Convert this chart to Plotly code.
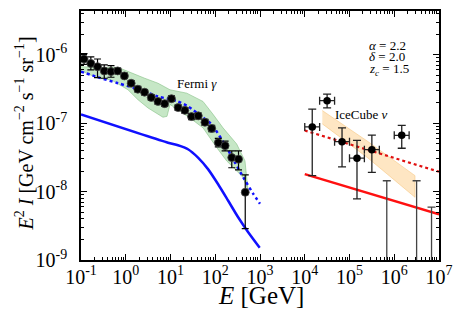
import plotly.graph_objects as go

# ---------------- data ----------------
# Fermi gamma-ray background points
fermi_E = [0.117, 0.166, 0.234, 0.331, 0.468, 0.661, 0.933, 1.32, 1.86, 2.63, 3.72, 5.25,
           7.41, 10.5, 14.8, 20.9, 29.5, 41.7, 58.9, 83.2, 117, 166, 234, 331, 468]
fermi_F = [8.67e-7, 7.48e-7, 6.70e-7, 5.81e-7, 5.68e-7, 5.81e-7, 4.91e-7, 3.84e-7, 3.14e-7,
           2.84e-7, 2.38e-7, 2.08e-7, 1.93e-7, 2.28e-7, 1.69e-7, 1.54e-7, 1.25e-7, 1.28e-7,
           1.03e-7, 8.38e-8, 5.18e-8, 4.69e-8, 3.14e-8, 2.98e-8, 9.77e-9]
fermi_hi = [1.04e-6, 9.35e-7, 8.67e-7, 7.10e-7, 6.93e-7, 6.4e-7, 5.4e-7, 4.2e-7, 3.45e-7,
            3.1e-7, 2.6e-7, 2.28e-7, 2.12e-7, 2.5e-7, 1.85e-7, 1.69e-7, 1.38e-7, 1.41e-7,
            1.14e-7, 9.3e-8, 6.0e-8, 5.48e-8, 3.93e-8, 3.93e-8, 1.76e-8]
fermi_lo = [7.23e-7, 6.0e-7, 4.65e-7, 4.54e-7, 4.69e-7, 5.3e-7, 4.5e-7, 3.5e-7, 2.87e-7,
            2.6e-7, 2.18e-7, 1.9e-7, 1.76e-7, 2.08e-7, 1.54e-7, 1.40e-7, 1.13e-7, 1.16e-7,
            0.93e-7, 7.5e-8, 4.5e-8, 3.93e-8, 2.23e-8, 2.08e-8, 2.88e-9]

# Fermi foreground-systematics band
band_up_E = [0.1, 0.24, 0.671, 1.12, 2.65, 5.26, 9.75, 23.0, 53.2, 89.1, 149, 301, 462, 540]
band_up_F = [6.70e-7, 6.55e-7, 6.55e-7, 5.68e-7, 4.54e-7, 3.84e-7, 3.08e-7, 2.75e-7,
             2.08e-7, 1.35e-7, 8.55e-8, 4.97e-8, 2.81e-8, 1.03e-8]
band_lo_E = [0.1, 0.24, 0.475, 1.12, 1.88, 3.14, 6.79, 8.36, 9.75, 13.8, 27.3, 53.2,
             108, 180, 301, 417, 540]
band_lo_F = [5.86e-7, 4.54e-7, 4.30e-7, 3.08e-7, 2.20e-7, 1.67e-7, 1.22e-7, 1.26e-7,
             1.88e-7, 1.60e-7, 1.19e-7, 8.55e-8, 4.39e-8, 2.81e-8, 2.01e-8, 1.61e-8, 1.03e-8]

# model gamma-ray curves
gam_tot_E = [0.1, 0.24, 0.671, 1.88, 5.26, 14.7, 24.6, 48.9, 83.4, 180, 276, 424, 708, 1000]
gam_tot_F = [5.68e-7, 4.69e-7, 3.84e-7, 3.14e-7, 2.46e-7, 2.08e-7, 1.76e-7, 1.26e-7,
             9.57e-8, 4.39e-8, 2.66e-8, 1.61e-8, 9.27e-9, 6.64e-9]
gam_src_E = [0.1, 8.79, 14.7, 24.6, 41.2, 68.9, 115, 193, 322, 540, 985]
gam_src_F = [1.34e-7, 5.18e-8, 4.75e-8, 4.16e-8, 3.14e-8, 2.13e-8, 1.29e-8, 7.41e-9,
             4.25e-9, 2.57e-9, 1.51e-9]

# IceCube neutrino points
ic_E = [1.47e4, 3.16e4, 6.81e4, 1.47e5, 3.16e5, 1.47e6]
ic_Elo = [1.0e4, 2.15e4, 4.64e4, 1.0e5, 2.15e5, 1.0e6]
ic_Ehi = [2.15e4, 4.64e4, 1.0e5, 2.15e5, 4.64e5, 2.15e6]
ic_F = [8.83e-8, 2.13e-7, 5.36e-8, 3.08e-8, 4.10e-8, 6.64e-8]
ic_hi = [1.61e-7, 2.66e-7, 8.55e-8, 5.61e-8, 6.70e-8, 9.27e-8]
ic_lo = [1.71e-8, 1.67e-7, 2.30e-8, 7.83e-9, 1.91e-8, 4.30e-8]
# IceCube upper-limit bins
ul_E = [6.81e5, 3.16e6, 6.81e6]
ul_F = [1.44e-8, 1.44e-8, 5.92e-9]

# IceCube best-fit band
ic_band_E = [2.47e4, 2.57e5, 2.91e6]
ic_band_up = [1.53e-7, 5.40e-8, 1.71e-8]
ic_band_lo = [9.77e-8, 3.11e-8, 8.26e-9]

# model neutrino curves
nu_E = [1.0e4, 1.0e7]
nu_src_F = [1.80e-8, 4.65e-9]
nu_tot_F = [7.83e-8, 1.95e-8]

# ticks
x_tickvals = [1e-1, 1e0, 1e1, 1e2, 1e3, 1e4, 1e5, 1e6, 1e7]
x_ticktext = ["10<sup>-1</sup>", "10<sup>0</sup>", "10<sup>1</sup>", "10<sup>2</sup>",
              "10<sup>3</sup>", "10<sup>4</sup>", "10<sup>5</sup>", "10<sup>6</sup>",
              "10<sup>7</sup>"]
y_tickvals = [1e-9, 1e-8, 1e-7, 1e-6]
y_ticktext = ["10<sup>-9</sup>", "10<sup>-8</sup>", "10<sup>-7</sup>", "10<sup>-6</sup>"]

FONT = "Liberation Serif"

fig = go.Figure()

# green band
fig.add_trace(go.Scatter(
    x=band_up_E + band_lo_E[::-1], y=band_up_F + band_lo_F[::-1],
    fill="toself", fillcolor="rgba(160,215,160,0.6)",
    line=dict(color="rgba(110,180,110,0.6)", width=0.8), mode="lines", hoverinfo="skip"))

# orange band
fig.add_trace(go.Scatter(
    x=ic_band_E + ic_band_E[::-1], y=ic_band_up + ic_band_lo[::-1],
    fill="toself", fillcolor="rgba(253,210,145,0.55)",
    line=dict(color="rgba(245,190,110,0.6)", width=0.8), mode="lines", hoverinfo="skip"))

# blue curves
fig.add_trace(go.Scatter(x=gam_src_E, y=gam_src_F, mode="lines",
                         line=dict(color="#1010ff", width=2.5, shape="spline", smoothing=0.6)))
fig.add_trace(go.Scatter(x=gam_tot_E, y=gam_tot_F, mode="lines",
                         line=dict(color="#1010ff", width=2.5, dash="dot", shape="spline",
                                   smoothing=0.6)))
# red curves
fig.add_trace(go.Scatter(x=nu_E, y=nu_src_F, mode="lines",
                         line=dict(color="#ff1010", width=2.5)))
fig.add_trace(go.Scatter(x=nu_E, y=nu_tot_F, mode="lines",
                         line=dict(color="#e01010", width=2.2, dash="dot")))

# Fermi points
fig.add_trace(go.Scatter(
    x=fermi_E, y=fermi_F, mode="markers",
    marker=dict(color="black", size=8, line=dict(color="#444", width=0.8)),
    error_y=dict(type="data", symmetric=False,
                 array=[h - f for h, f in zip(fermi_hi, fermi_F)],
                 arrayminus=[f - l for f, l in zip(fermi_F, fermi_lo)],
                 color="black", thickness=1.2, width=3.5)))

# IceCube upper-limit bars
fig.add_trace(go.Scatter(
    x=ul_E, y=ul_F, mode="markers", marker=dict(size=1, color="rgba(0,0,0,0)"),
    error_y=dict(type="data", symmetric=False, array=[0] * len(ul_F),
                 arrayminus=[f - 1e-12 for f in ul_F],
                 color="#444", thickness=1.3, width=4)))

# IceCube points
fig.add_trace(go.Scatter(
    x=ic_E, y=ic_F, mode="markers",
    marker=dict(color="black", size=7.5),
    error_y=dict(type="data", symmetric=False,
                 array=[h - f for h, f in zip(ic_hi, ic_F)],
                 arrayminus=[f - l for f, l in zip(ic_F, ic_lo)],
                 color="#222", thickness=1.3, width=4),
    error_x=dict(type="data", symmetric=False,
                 array=[h - e for h, e in zip(ic_Ehi, ic_E)],
                 arrayminus=[e - l for e, l in zip(ic_E, ic_Elo)],
                 color="#222", thickness=1.3, width=4)))

axis_common = dict(
    type="log", showgrid=False, zeroline=False, showline=True, linecolor="black",
    linewidth=1.5, mirror="allticks", ticks="inside", ticklen=6, tickwidth=1,
    tickcolor="black", tickmode="array",
    tickfont=dict(family=FONT, size=20, color="black"),
    minor=dict(ticks="inside", ticklen=3, tickwidth=1, tickcolor="black",
               dtick="D1", showgrid=False),
)

fig.update_xaxes(**axis_common, range=[-1, 7], tickvals=x_tickvals, ticktext=x_ticktext,
                 ticklabelstandoff=-2)
fig.update_yaxes(**axis_common, range=[-9, -5.36], tickvals=y_tickvals, ticktext=y_ticktext,
                 ticklabelstandoff=8)

annos = [
    dict(x=-0.197, y=0.51, xref="paper", yref="paper", textangle=-90,
         text="<i>E</i><sup>2</sup> <i>I</i> [GeV cm<sup>−2</sup> s<sup>−1</sup> sr<sup>−1</sup>]",
         font=dict(family=FONT, size=20, color="black"), showarrow=False),
    dict(x=0.503, y=-0.205, xref="paper", yref="paper",
         text="<i>E</i> [GeV]", font=dict(family=FONT, size=25, color="black"),
         showarrow=False),
    dict(x=1.592, y=-6.42, xref="x", yref="y", text="Fermi <i>γ</i>",
         font=dict(family=FONT, size=13, color="black"), showarrow=False),
    dict(x=5.279, y=-6.87, xref="x", yref="y", text="IceCube <i>ν</i>",
         font=dict(family=FONT, size=13, color="black"), showarrow=False),
    dict(x=0.799, y=(260 - 34) / 251, xref="paper", yref="paper", xanchor="left",
         text="<i>α</i> = 2.2", font=dict(family=FONT, size=13, color="black"),
         showarrow=False),
    dict(x=0.799, y=(260 - 45.5) / 251, xref="paper", yref="paper", xanchor="left",
         text="<i>δ</i> = 2.0", font=dict(family=FONT, size=13, color="black"),
         showarrow=False),
    dict(x=0.799, y=(260 - 57) / 251, xref="paper", yref="paper", xanchor="left",
         text="<i>z<sub>c</sub></i> = 1.5", font=dict(family=FONT, size=13, color="black"),
         showarrow=False),
]

# page body adds an 8px offset; the figure is sized so that the plot area lands at
# x = 81..439, y = 9..260 in the window
fig.update_layout(
    width=455, height=317, margin=dict(l=73, r=24, t=1, b=65),
    paper_bgcolor="white", plot_bgcolor="white", showlegend=False,
    annotations=annos, font=dict(family=FONT),
)

fig.write_html("out.html")
